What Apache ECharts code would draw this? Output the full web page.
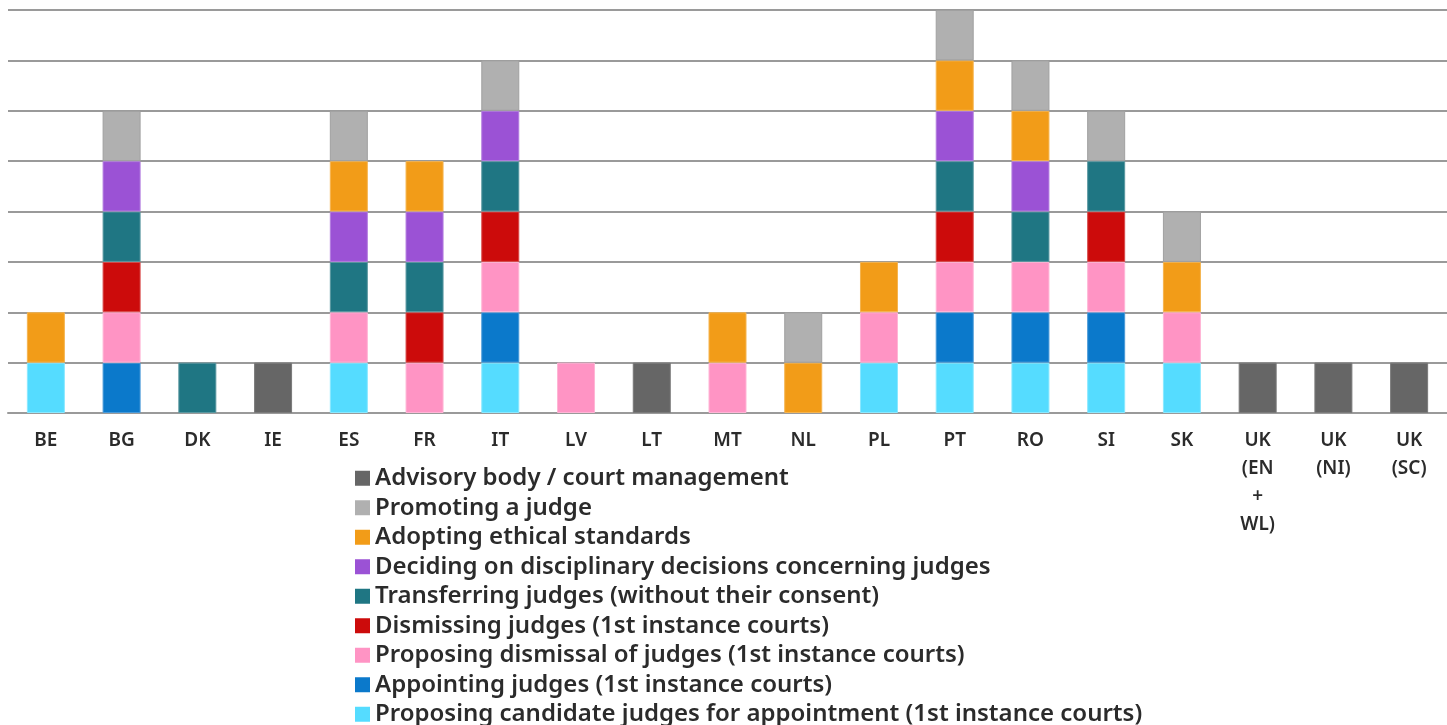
<!DOCTYPE html>
<html>
<head>
<meta charset="utf-8">
<script src="https://cdn.jsdelivr.net/npm/echarts@6/dist/echarts.min.js"></script>
<style>
  html, body { margin: 0; padding: 0; background: #fff; }
  #chart { width: 1447px; height: 725px; }
</style>
</head>
<body>
<div id="chart"></div>
<script>
// countries on the x axis
const countries = ['BE', 'BG', 'DK', 'IE', 'ES', 'FR', 'IT', 'LV', 'LT', 'MT', 'NL', 'PL', 'PT', 'RO', 'SI', 'SK',
  'UK\n(EN\n+\nWL)', 'UK\n(NI)', 'UK\n(SC)'];

// one entry per power, 1 = council has this power (bottom of the stack first)
const proposingCandidates = [1, 0, 0, 0, 1, 0, 1, 0, 0, 0, 0, 1, 1, 1, 1, 1, 0, 0, 0];
const appointing          = [0, 1, 0, 0, 0, 0, 1, 0, 0, 0, 0, 0, 1, 1, 1, 0, 0, 0, 0];
const proposingDismissal  = [0, 1, 0, 0, 1, 1, 1, 1, 0, 1, 0, 1, 1, 1, 1, 1, 0, 0, 0];
const dismissing          = [0, 1, 0, 0, 0, 1, 1, 0, 0, 0, 0, 0, 1, 0, 1, 0, 0, 0, 0];
const transferring        = [0, 1, 1, 0, 1, 1, 1, 0, 0, 0, 0, 0, 1, 1, 1, 0, 0, 0, 0];
const disciplinary        = [0, 1, 0, 0, 1, 1, 1, 0, 0, 0, 0, 0, 1, 1, 0, 0, 0, 0, 0];
const ethical             = [1, 0, 0, 0, 1, 1, 0, 0, 0, 1, 1, 1, 1, 1, 0, 1, 0, 0, 0];
const promoting           = [0, 1, 0, 0, 1, 0, 1, 0, 0, 0, 1, 0, 1, 1, 1, 1, 0, 0, 0];
const advisory            = [0, 0, 0, 1, 0, 0, 0, 0, 1, 0, 0, 0, 0, 0, 0, 0, 1, 1, 1];

const seriesDefs = [
  { name: 'Proposing candidate judges for appointment (1st instance courts)', data: proposingCandidates, color: '#55dcff', border: '#8ae8ff' },
  { name: 'Appointing judges (1st instance courts)', data: appointing, color: '#0b79cb', border: '#4a9ad8' },
  { name: 'Proposing dismissal of judges (1st instance courts)', data: proposingDismissal, color: '#ff94c4', border: '#ffb5d6' },
  { name: 'Dismissing judges (1st instance courts)', data: dismissing, color: '#cc0b0b', border: '#d84a4a' },
  { name: 'Transferring judges (without their consent)', data: transferring, color: '#1f7683', border: '#5a97a0' },
  { name: 'Deciding on disciplinary decisions concerning judges', data: disciplinary, color: '#9b52d5', border: '#b37ddf' },
  { name: 'Adopting ethical standards', data: ethical, color: '#f29c18', border: '#f5b44f' },
  { name: 'Promoting a judge', data: promoting, color: '#b0b0b0', border: '#a0a0a0' },
  { name: 'Advisory body / court management', data: advisory, color: '#666666', border: '#7a7a7a' }
];

const chart = echarts.init(document.getElementById('chart'));

chart.setOption({
  animation: false,
  textStyle: { fontFamily: 'Noto Sans', color: '#333' },
  grid: { left: 8, right: 0, top: 10, bottom: 312 },
  legend: {
    orient: 'vertical',
    left: 350,
    top: 460,
    height: 280,
    itemWidth: 15,
    itemHeight: 15,
    itemGap: 3,
    icon: 'rect',
    itemStyle: { borderWidth: 0 },
    data: seriesDefs.map(s => s.name).reverse(),
    textStyle: { fontSize: 24, fontWeight: 600, color: '#2b2b2b', lineHeight: 26.5 }
  },
  xAxis: {
    type: 'category',
    data: countries,
    axisLine: { lineStyle: { color: '#9a9a9a', width: 2 } },
    axisTick: { length: 6, lineStyle: { color: '#9a9a9a', width: 1.5 } },
    axisLabel: { fontSize: 19, color: '#2b2b2b', margin: 14, lineHeight: 28, fontWeight: 600 }
  },
  yAxis: {
    type: 'value',
    min: 0,
    max: 8,
    interval: 1,
    axisLabel: { show: false },
    axisLine: { show: false },
    axisTick: { show: false },
    splitLine: { lineStyle: { color: '#9a9a9a', width: 2 } }
  },
  series: seriesDefs.map(s => ({
    name: s.name,
    type: 'bar',
    stack: 'powers',
    barWidth: 38,
    data: s.data.map(v => (v ? v : '-')),
    itemStyle: { color: s.color, borderColor: s.border, borderWidth: 1 }
  }))
});
</script>
</body>
</html>
